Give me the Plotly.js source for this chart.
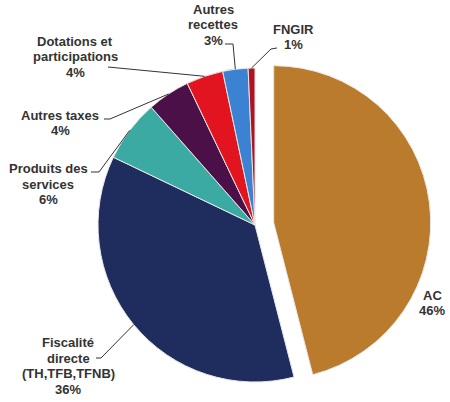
<!DOCTYPE html>
<html>
<head>
<meta charset="utf-8">
<script src="https://cdn.plot.ly/plotly-3.0.1.min.js"></script>
<style>html,body{margin:0;padding:0;background:#fff;}#chart{width:450px;height:402px;}</style>
</head>
<body>
<div id="chart"></div>
<script>
// ---- data ----
var categories = ['AC', 'Fiscalité directe (TH,TFB,TFNB)', 'Produits des services', 'Autres taxes', 'Dotations et participations', 'Autres recettes', 'FNGIR'];
var displayLines = [['AC'], ['Fiscalité', 'directe', '(TH,TFB,TFNB)'], ['Produits des', 'services'], ['Autres taxes'], ['Dotations et', 'participations'], ['Autres', 'recettes'], ['FNGIR']];
var values = [46.0, 36.1, 6.4, 4.4, 3.8, 2.6, 0.7];
var colors = ['#bb7b2c', '#1f2c5e', '#3aaaa2', '#4c1049', '#e2141f', '#3b82d2', '#b0121f'];
var pulls = [0.12, 0, 0, 0, 0, 0, 0];

// ---- layout constants ----
var W = 450, H = 402;
var cxPx = 255, cyPx = 225, rPx = 157;
var maxPull = 0.12;
var half = rPx * (1 + maxPull);
var domX = [(cxPx - half) / W, (cxPx + half) / W];
var domY = [1 - (cyPx + half) / H, 1 - (cyPx - half) / H];
var lineGap = 15.5;

// label text centers (px) and leader line starts/elbows (px)
var labelPos = [[432, 303], [68, 366], [48, 184], [60, 123], [75, 57], [213, 25], [293, 37]];
var leaderPts = [
  null,
  [[96, 358], [101, 358]],
  [[91, 172], [99, 172]],
  [[104, 119], [110, 119]],
  [[108, 67]],
  [[225, 44], [233, 44]],
  [[277, 48], [271, 49]]
];

var total = values.reduce(function (a, b) { return a + b; }, 0);

var trace = {
  type: 'pie',
  labels: categories,
  values: values,
  sort: false,
  direction: 'clockwise',
  rotation: 0,
  pull: pulls,
  textinfo: 'none',
  hoverinfo: 'label+percent',
  marker: { colors: colors, line: { color: '#e8e8e8', width: 1 } },
  domain: { x: domX, y: domY },
  showlegend: false
};

var annotations = [];
var shapes = [];
var cum = 0;
var font = { family: 'Liberation Sans, Arial, sans-serif', size: 13, color: '#333333' };
for (var i = 0; i < values.length; i++) {
  var start = cum / total * 360;
  cum += values[i];
  var end = cum / total * 360;
  var mid = (start + end) / 2 * Math.PI / 180;
  var pct = Math.round(values[i] / total * 100) + '%';
  var lines = displayLines[i].concat([pct]);
  for (var k = 0; k < lines.length; k++) {
    var yPx = labelPos[i][1] + (k - (lines.length - 1) / 2) * lineGap;
    annotations.push({
      xref: 'paper', yref: 'paper',
      x: labelPos[i][0] / W, y: 1 - yPx / H,
      xanchor: 'center', yanchor: 'middle',
      text: '<b>' + lines[k] + '</b>',
      showarrow: false, font: font, align: 'center'
    });
  }
  if (leaderPts[i]) {
    var tx = cxPx + rPx * Math.sin(mid);
    var ty = cyPx - rPx * Math.cos(mid);
    var pts = leaderPts[i].concat([[tx, ty]]);
    var path = '';
    for (var m = 0; m < pts.length; m++) {
      path += (m === 0 ? 'M ' : ' L ') + (pts[m][0] / W).toFixed(5) + ' ' + (1 - pts[m][1] / H).toFixed(5);
    }
    shapes.push({ type: 'path', xref: 'paper', yref: 'paper', path: path, line: { color: '#333333', width: 1 } });
  }
}

var layout = {
  width: W, height: H,
  margin: { l: 0, r: 0, t: 0, b: 0 },
  paper_bgcolor: '#ffffff',
  plot_bgcolor: '#ffffff',
  annotations: annotations,
  shapes: shapes,
  showlegend: false
};

Plotly.newPlot('chart', [trace], layout, { displayModeBar: false, staticPlot: true });
</script>
</body>
</html>
